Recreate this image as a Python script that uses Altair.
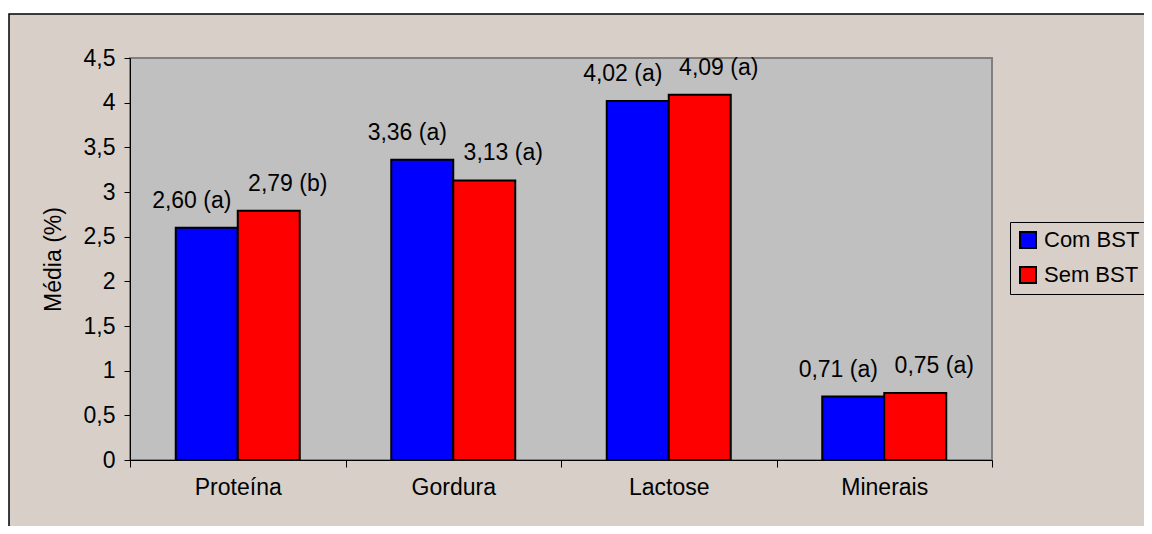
import altair as alt
import pandas as pd

categories = ["Proteína", "Gordura", "Lactose", "Minerais"]
series = ["Com BST", "Sem BST"]
com_bst = [2.60, 3.36, 4.02, 0.71]
sem_bst = [2.79, 3.13, 4.09, 0.75]
com_letters = ["a", "a", "a", "a"]
sem_letters = ["b", "a", "a", "a"]
y_ticks = [0, 0.5, 1, 1.5, 2, 2.5, 3, 3.5, 4, 4.5]
colors = ["#0000ff", "#ff0000"]

rows = []
for name, vals, lets in [(series[0], com_bst, com_letters), (series[1], sem_bst, sem_letters)]:
    for c, v, l in zip(categories, vals, lets):
        rows.append({"cat": c, "serie": name, "val": v,
                     "label": f"{v:.2f}".replace(".", ",") + f" ({l})"})
df = pd.DataFrame(rows)

FONT = "Liberation Sans"
FS = 23
W, H = 862, 402
BEIGE = "#d8d0c8"

blank = alt.Data(values=[{"k": 1}])

frame = alt.Chart(blank).mark_rect(fill=BEIGE, stroke="black", strokeWidth=1.5, clip=False).encode(
    x=alt.value(-121), x2=alt.value(1040), y=alt.value(-44), y2=alt.value(500)
)
plotbg = alt.Chart(blank).mark_rect(fill="#c0c0c0", stroke="#808080", strokeWidth=2).encode(
    x=alt.value(0), x2=alt.value(W), y=alt.value(0), y2=alt.value(H)
)

xenc = alt.X("cat:N", sort=categories, scale=alt.Scale(paddingInner=0, paddingOuter=0),
             axis=alt.Axis(title=None, labelAngle=0, tickBand="extent", domainColor="black",
                           tickColor="black", tickSize=7, labelFontSize=FS, labelFont=FONT,
                           labelColor="black", labelPadding=9, zindex=1))
xoff = alt.XOffset("serie:N", sort=series, scale=alt.Scale(paddingInner=0, paddingOuter=0.738))
yenc = alt.Y("val:Q", scale=alt.Scale(domain=[0, 4.5], nice=False),
             axis=alt.Axis(title="Média (%)", values=y_ticks, format=".1~f",
                           labelExpr="replace(datum.label, '.', ',')", grid=False,
                           domainColor="black", tickColor="black", tickSize=6,
                           labelFontSize=FS, labelFont=FONT, labelColor="black", labelPadding=9,
                           titleFont=FONT, titleFontSize=FS, titleFontWeight="normal",
                           titleColor="black", titlePadding=18, zindex=1))

bars = alt.Chart(df).mark_bar(stroke="black", strokeWidth=2).encode(
    x=xenc, xOffset=xoff, y=yenc,
    color=alt.Color("serie:N", scale=alt.Scale(domain=series, range=colors),
                    legend=alt.Legend(title=None, orient="none", legendX=880, legendY=164,
                                      strokeColor="black", fillColor=BEIGE, padding=7,
                                      symbolType="square", symbolSize=256,
                                      symbolStrokeColor="black", symbolStrokeWidth=2,
                                      labelFontSize=22, labelFont=FONT, labelColor="black",
                                      rowPadding=11, labelOffset=5))
)

def labels(name, dx):
    return alt.Chart(df).transform_filter(alt.datum.serie == name).mark_text(
        font=FONT, fontSize=FS, color="black", baseline="alphabetic", dy=-20, dx=dx
    ).encode(x=xenc, xOffset=xoff, y=yenc, text="label:N")

chart = alt.layer(frame, plotbg, bars, labels(series[0], -15), labels(series[1], 19)).properties(
    width=W, height=H,
    autosize=alt.AutoSizeParams(type="none"),
    padding={"left": 122, "top": 50, "right": 152, "bottom": 66},
).configure_view(stroke=None).configure(background="white")

chart.save("out.html", embed_options={"renderer": "svg", "actions": False})
